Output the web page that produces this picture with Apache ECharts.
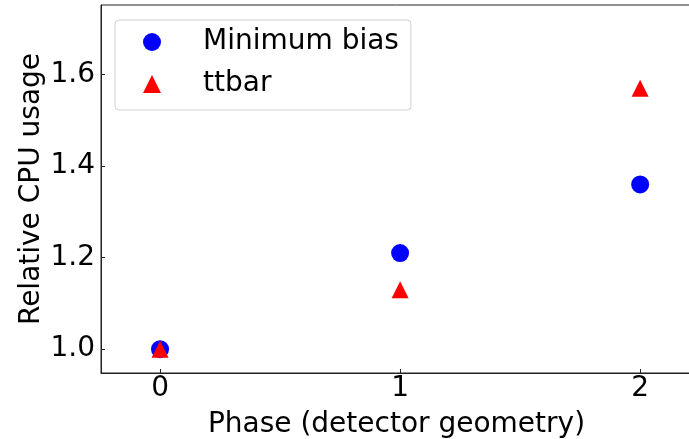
<!DOCTYPE html>
<html>
<head>
<meta charset="utf-8">
<script src="https://cdn.jsdelivr.net/npm/echarts@6/dist/echarts.min.js"></script>
<style>
  html, body { margin: 0; padding: 0; background: #fff; }
  #chart { width: 689px; height: 439px; }
</style>
</head>
<body>
<div id="chart"></div>
<script>
var phases = [0, 1, 2];
var minBias = [1.0, 1.21, 1.36];
var ttbar = [1.0, 1.13, 1.57];
var xTicks = [0, 1, 2];
var yTicks = [1.0, 1.2, 1.4, 1.6];

function pairs(xs, ys) {
    return xs.map(function (x, i) { return [x, ys[i]]; });
}

var font = 'DejaVu Sans';
var chart = echarts.init(document.getElementById('chart'));
var option = {
    animation: false,
    backgroundColor: '#fff',
    grid: {
        left: 101, top: 5, right: -3, bottom: 66,
        outerBoundsMode: 'none',
        show: true, borderColor: '#222', borderWidth: 1
    },
    legend: {
        left: 115, top: 20,
        orient: 'vertical',
        padding: [8, 12, 12, 28],
        itemGap: 14,
        itemWidth: 18, itemHeight: 18,
        borderColor: '#d0d0d0', borderWidth: 1, borderRadius: 4,
        backgroundColor: 'rgba(255,255,255,0.8)',
        textStyle: { fontFamily: font, fontSize: 28, color: '#000', padding: [0, 0, 0, 37] },
        data: [
            { name: 'Minimum bias', icon: 'circle' },
            { name: 'ttbar', icon: 'triangle' }
        ]
    },
    xAxis: {
        type: 'value',
        min: -0.246, max: 2.216,
        name: 'Phase (detector geometry)',
        nameLocation: 'middle',
        nameGap: 38,
        nameMoveOverlap: false,
        nameTextStyle: { fontFamily: font, fontSize: 28, color: '#000' },
        splitLine: { show: false },
        axisLine: { onZero: false, lineStyle: { color: '#222', width: 1 } },
        axisTick: { inside: true, length: 4, customValues: xTicks, lineStyle: { color: '#222' } },
        axisLabel: { customValues: xTicks, fontFamily: font, fontSize: 28, color: '#000', margin: 2 }
    },
    yAxis: {
        type: 'value',
        min: 0.948, max: 1.752,
        name: 'Relative CPU usage',
        nameLocation: 'middle',
        nameRotate: 90,
        nameGap: 55,
        nameMoveOverlap: false,
        nameTextStyle: { fontFamily: font, fontSize: 28, color: '#000' },
        splitLine: { show: false },
        axisLine: { show: true, onZero: false, lineStyle: { color: '#222', width: 1 } },
        axisTick: { show: true, inside: true, length: 4, customValues: yTicks, lineStyle: { color: '#222' } },
        axisLabel: {
            customValues: yTicks, fontFamily: font, fontSize: 28, color: '#000', margin: 6,
            formatter: function (v) { return v.toFixed(1); }
        }
    },
    series: [
        {
            name: 'Minimum bias',
            type: 'scatter',
            symbol: 'circle',
            symbolSize: 18,
            itemStyle: { color: '#0000ff', opacity: 1 },
            data: pairs(phases, minBias)
        },
        {
            name: 'ttbar',
            type: 'scatter',
            symbol: 'triangle',
            symbolSize: 17,
            itemStyle: { color: '#ff0000', opacity: 1 },
            data: pairs(phases, ttbar)
        }
    ]
};
chart.setOption(option);
</script>
</body>
</html>
